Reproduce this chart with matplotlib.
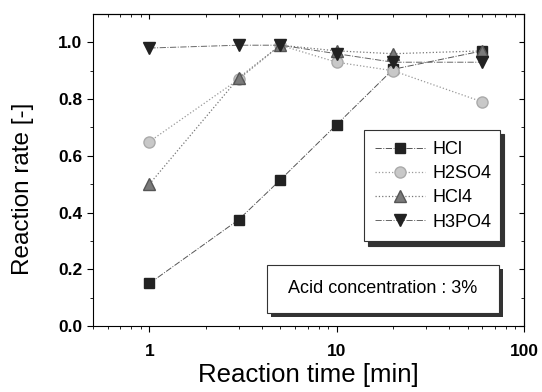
import numpy as np
import matplotlib.pyplot as plt
from matplotlib.patches import Rectangle

plt.rcParams['font.family'] = ['Liberation Sans', 'DejaVu Sans']

# data
time_min = [1, 3, 5, 10, 20, 60]
hcl = [0.15, 0.375, 0.515, 0.71, 0.905, 0.97]
h2so4 = [0.65, 0.87, 0.99, 0.93, 0.90, 0.79]
hcl4 = [0.50, 0.875, 0.99, 0.97, 0.96, 0.97]
h3po4 = [0.98, 0.99, 0.99, 0.96, 0.93, 0.93]

fig = plt.figure(figsize=(5.42, 3.92), dpi=100)
ax = fig.add_axes([93/542, 1-326/392, (524-93)/542, (326-14)/392])

ax.plot(time_min, hcl, linestyle='-.', color='#555555', lw=0.7,
        marker='s', ms=7, mfc='#222222', mec='#222222', label='HCl')
ax.plot(time_min, h2so4, linestyle=':', color='#999999', lw=0.9,
        marker='o', ms=8, mfc='#c8c8c8', mec='#aaaaaa', label='H2SO4')
ax.plot(time_min, hcl4, linestyle=':', color='#777777', lw=0.9,
        marker='^', ms=9, mfc='#7a7a7a', mec='#555555', label='HCl4')
ax.plot(time_min, h3po4, linestyle='-.', color='#666666', lw=0.7,
        marker='v', ms=9, mfc='#222222', mec='#222222', label='H3PO4')

ax.set_xscale('log')
ax.set_xlim(0.5, 100)
ax.set_ylim(0, 1.1)
ax.set_xticks([1, 10, 100])
ax.set_xticklabels(['1', '10', '100'])
ax.set_yticks(np.arange(0, 1.01, 0.2))
ax.set_yticklabels(['0.0', '0.2', '0.4', '0.6', '0.8', '1.0'])
ax.set_yticks(np.arange(0.1, 1.1, 0.2), minor=True)

for lab in ax.get_xticklabels() + ax.get_yticklabels():
    lab.set_fontweight('bold')
    lab.set_fontsize(12.5)

ax.tick_params(which='both', direction='out', top=False, right=False)
ax.tick_params(which='major', length=4)
ax.tick_params(which='minor', length=2.5)
ax.tick_params(axis='x', pad=9)

# inner ticks on top and right
tx = ax.secondary_xaxis('top')
tx.set_xticks([1, 10, 100])
tx.set_xticklabels([])
tx.tick_params(which='both', direction='in')
ty = ax.secondary_yaxis('right')
ty.set_yticks(np.arange(0, 1.01, 0.2))
ty.set_yticks(np.arange(0.1, 1.1, 0.2), minor=True)
ty.set_yticklabels([])
ty.tick_params(which='both', direction='in')

ax.set_xlabel('Reaction time [min]', fontsize=18.5)
ax.set_ylabel('Reaction rate [-]', fontsize=17.5)
ax.xaxis.set_label_coords(0.5, -0.12)
ax.yaxis.set_label_coords(-0.138, 0.44)

leg = ax.legend(loc='upper left', bbox_to_anchor=(0.629, 0.237, 0.315, 0.391),
                mode='expand', fontsize=13,
                frameon=True, fancybox=False,
                shadow={'color': '#333333', 'alpha': 1, 'ox': 3, 'oy': -3},
                handlelength=2.8, borderpad=0.6, labelspacing=0.4,
                handletextpad=0.4, borderaxespad=0)
leg.get_frame().set_edgecolor('#333333')
leg.get_frame().set_linewidth(0.8)

# note box with shadow
bx0, by0, bw, bh = 0.404, 0.042, 0.538, 0.154
ax.add_patch(Rectangle((bx0 + 0.009, by0 - 0.013), bw, bh, transform=ax.transAxes,
                       fc='#333333', ec='none', zorder=4))
ax.add_patch(Rectangle((bx0, by0), bw, bh, transform=ax.transAxes,
                       fc='white', ec='#333333', lw=0.8, zorder=5))
ax.text(bx0 + bw / 2, by0 + bh / 2, 'Acid concentration : 3%', transform=ax.transAxes,
        ha='center', va='center', fontsize=13, zorder=6)

fig.savefig('out.png', dpi=100)
